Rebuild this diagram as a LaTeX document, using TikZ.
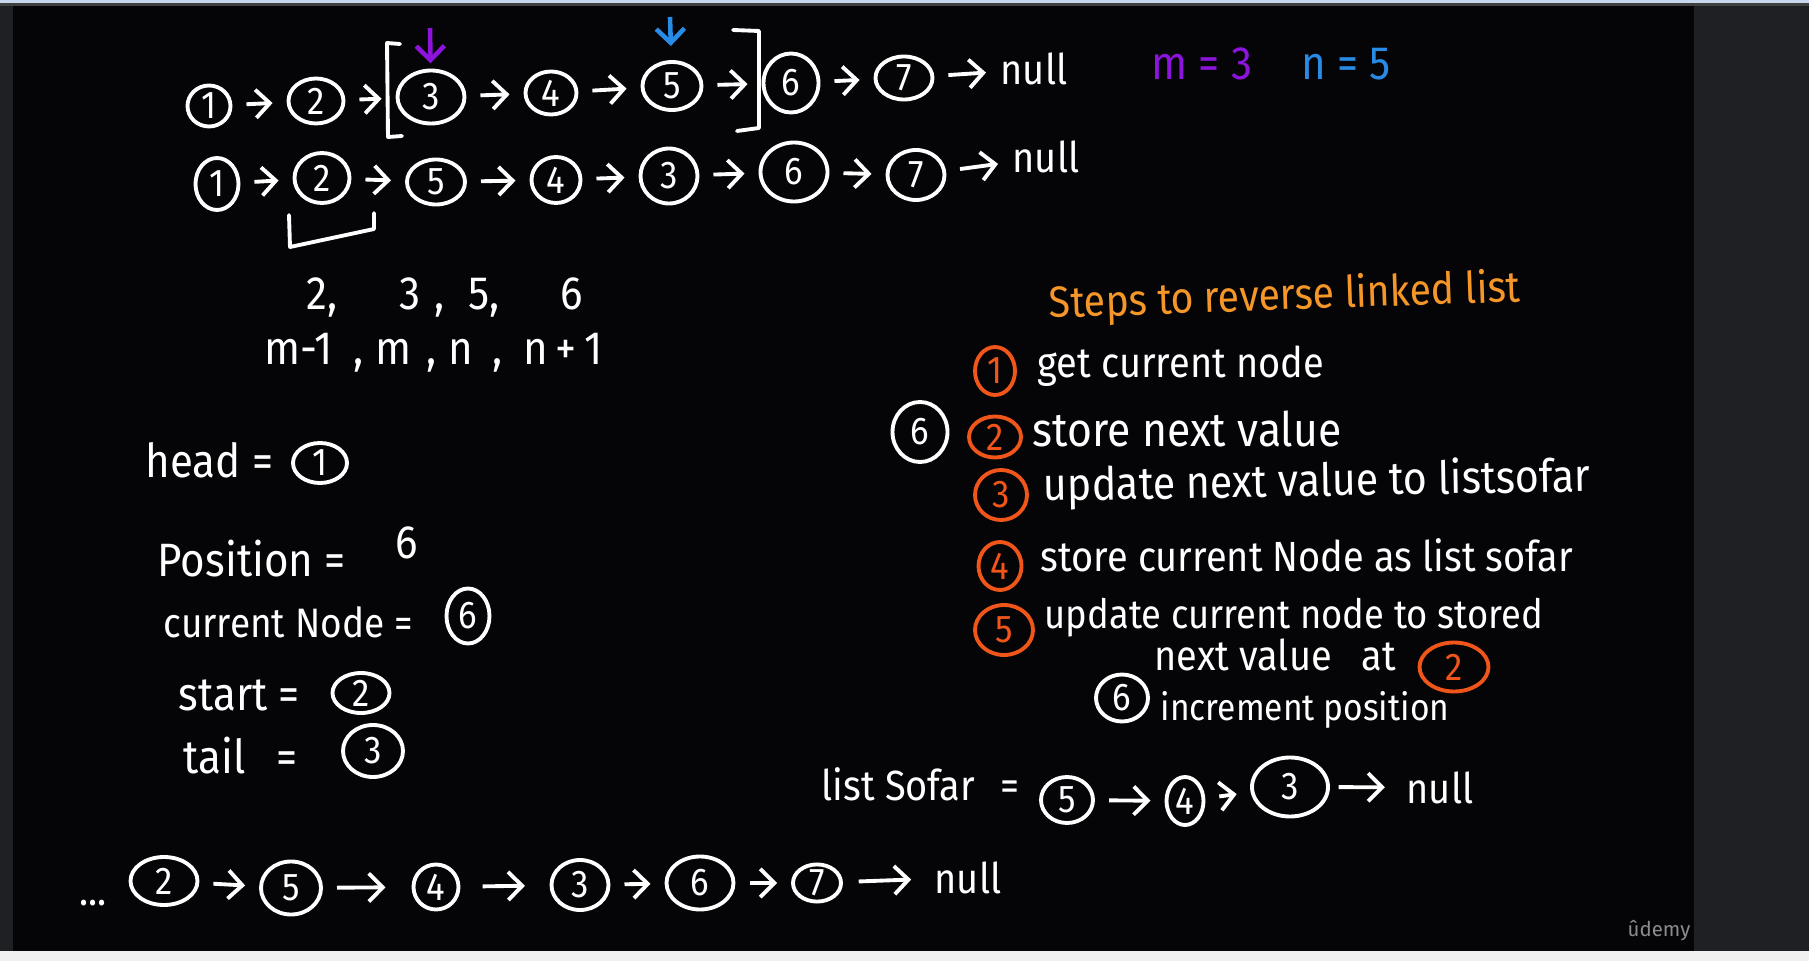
\documentclass[tikz,border=0pt]{standalone}
\usepackage{fontspec}
\setmainfont{Fira Sans}[FakeStretch=0.9]
\newfontfamily\logofont{Fira Sans}
\usetikzlibrary{shapes.geometric,arrows.meta}
\definecolor{board}{RGB}{5,4,7}
\definecolor{sidegray}{RGB}{31,32,35}
\definecolor{topblue}{RGB}{200,215,240}
\definecolor{titleorange}{RGB}{245,150,40}
\definecolor{steporange}{RGB}{240,85,25}
\definecolor{mpurple}{RGB}{140,20,220}
\definecolor{nblue}{RGB}{40,140,230}
\definecolor{logogray}{RGB}{140,140,140}
\begin{document}
\begin{tikzpicture}[x=0.01cm, y=-0.01cm,
  every node/.style={text=white, inner sep=0pt, font=\fontsize{12}{14}\selectfont},
  sz/.style 2 args={minimum width=#1*0.01cm, minimum height=#2*0.01cm},
  ball/.style={ellipse, draw=white, line width=1.1pt, font=\fontsize{11}{13}\selectfont},
  oball/.style={ball, draw=steporange, text=steporange},
  hand/.style={anchor=base west},
  big/.style={font=\fontsize{13.3}{16}\selectfont},
  link/.style={white, line width=1.1pt, -{Straight Barb[length=4pt,width=8pt]}, shorten <=4pt, shorten >=4pt},
  pointer/.style={line width=1.3pt, -{Straight Barb[length=4pt,width=8pt]}},
  stroke/.style={white, line width=1.1pt, line cap=round, line join=round}]
  \useasboundingbox (0,0) rectangle (1809,961);
  \fill[sidegray] (0,0) rectangle (1809,961);
  \fill[topblue] (0,0) rectangle (1809,3);
  \fill[black!75] (0,3) rectangle (1809,6);
  \fill[board] (13,6) rectangle (1694,951);
  \fill[white!94!black] (0,951) rectangle (1809,961);

  \node[ball, sz={43}{41}] (a1) at (209,106) {1};
  \node[ball, sz={55}{45}] (a2) at (316,101) {2};
  \node[ball, sz={67}{53}] (a3) at (431,97) {3};
  \node[ball, sz={51}{43}] (a4) at (551,93) {4};
  \node[ball, sz={59}{48}] (a5) at (672,86) {5};
  \node[ball, sz={55}{59}] (a6) at (791,83) {6};
  \node[ball, sz={57}{43}] (a7) at (904,78) {7};
  \node[hand] (anull) at (1000,85) {null};
  \draw[link] (a1) -- (a2);
  \draw[link] (a2) -- (a3);
  \draw[link] (a3) -- (a4);
  \draw[link] (a4) -- (a5);
  \draw[link] (a5) -- (a6);
  \draw[link] (a6) -- (a7);
  \draw[link] (a7) -- (anull);
  \draw[stroke] (400,44) -- (387,43) -- (388,137) -- (402,136);
  \draw[stroke] (733,30) -- (759,31) -- (759,128) -- (737,131);
  \coordinate (mptr) at (430,28);
  \coordinate (nptr) at (670,17);
  \draw[pointer, mpurple, shorten >=1.5pt] (mptr) -- (a3);
  \draw[pointer, nblue, shorten >=4pt] (nptr) -- (a5);
  \node[hand, big, text=mpurple] (mval) at (1151,80) {m = 3};
  \node[hand, big, text=nblue] (nval) at (1301,80) {n = 5};

  \node[ball, sz={43}{52}] (b1) at (217,184) {1};
  \node[ball, sz={55}{50}] (b2) at (322,178) {2};
  \node[ball, sz={58}{45}] (b5) at (436,182) {5};
  \node[ball, sz={49}{46}] (b4) at (556,180) {4};
  \node[ball, sz={57}{55}] (b3) at (669,176) {3};
  \node[ball, sz={67}{59}] (b6) at (794,172) {6};
  \node[ball, sz={57}{50}] (b7) at (916,175) {7};
  \node[hand] (bnull) at (1012,173) {null};
  \draw[link] (b1) -- (b2);
  \draw[link] (b2) -- (b5);
  \draw[link] (b5) -- (b4);
  \draw[link] (b4) -- (b3);
  \draw[link] (b3) -- (b6);
  \draw[link] (b6) -- (b7);
  \draw[link] (b7) -- (bnull);
  \draw[stroke] (289,215) -- (290,247) -- (374,229) -- (374,213);

  \node[hand, big] (vals) at (306,310) {2,\hspace{0.62cm}3\hspace{0.14cm},\hspace{0.24cm}5,\hspace{0.6cm}6};
  \node[hand, big] (idx) at (264,365) {m-1\hspace{0.2cm},\hspace{0.12cm}m\hspace{0.15cm},\hspace{0.12cm}n\hspace{0.2cm},\hspace{0.2cm}n\,+\,1};

  \node[hand, big] (head) at (145,478) {head =};
  \node[ball, sz={54}{40}] (hd1) at (320,463) {1};
  \node[hand, big] (pos) at (157,577) {Position =};
  \node[hand, big] (posval) at (395,558) {6};
  \node[hand, font=\fontsize{11.7}{14}\selectfont] (cur) at (163,637) {current Node =};
  \node[ball, sz={43}{55}] (cn6) at (468,616) {6};
  \node[hand, big] (start) at (178,710) {start =};
  \node[ball, sz={57}{40}] (st2) at (361,693) {2};
  \node[hand, big] (tail) at (183,773) {tail\hspace{0.2cm} =};
  \node[ball, sz={60}{52}] (tl3) at (373,751) {3};

  \node[hand, text=titleorange, rotate=2, font=\fontsize{12.4}{15}\selectfont] (title) at (1049,318) {Steps to reverse linked list};
  \node[oball, sz={40}{48}] (o1) at (995,371) {1};
  \node[hand] (step1) at (1037,378) {get current node};
  \node[ball, sz={55}{60}] (w6) at (920,432) {6};
  \node[oball, sz={52}{41}] (o2) at (995,437) {2};
  \node[hand, font=\fontsize{13.5}{16}\selectfont] (step2) at (1032,446) {store next value};
  \node[oball, sz={52}{50}] (o3) at (1001,495) {3};
  \node[hand, rotate=1, font=\fontsize{13}{16}\selectfont] (step3) at (1043,501) {update next value to listsofar};
  \node[oball, sz={43}{48}] (o4) at (1000,566) {4};
  \node[hand] (step4) at (1040,571) {store current Node as list sofar};
  \node[oball, sz={58}{50}] (o5) at (1004,630) {5};
  \node[hand, font=\fontsize{11.5}{14}\selectfont] (step5) at (1044,628) {update current node to stored};
  \node[hand] (step5b) at (1154,670) {next value\hspace{0.2cm} at};
  \node[oball, sz={69}{49}] (o2b) at (1454,667) {2};
  \node[ball, sz={52}{47}] (w6b) at (1122,698) {6};
  \node[hand, font=\fontsize{10.6}{13}\selectfont] (step6) at (1160,720) {increment position};

  \node[hand] (sofar) at (821,800) {list Sofar\hspace{0.15cm} =};
  \node[ball, sz={52}{46}] (s5) at (1067,800) {5};
  \node[ball, sz={37}{48}] (s4) at (1185,801) {4};
  \node[ball, sz={76}{59}] (s3) at (1290,787) {3};
  \node[hand] (snull) at (1406,803) {null};
  \draw[link] (s5) -- (s4);
  \draw[link] (s4) -- (s3);
  \draw[link, shorten <=2.5pt, shorten >=6pt] (s3) -- (snull);

  \node[hand] (dots) at (79,905) {...};
  \node[ball, sz={67}{48}] (d2) at (164,881) {2};
  \node[ball, sz={60}{53}] (d5) at (291,888) {5};
  \node[ball, sz={45}{45}] (d4) at (436,887) {4};
  \node[ball, sz={57}{50}] (d3) at (580,885) {3};
  \node[ball, sz={67}{53}] (d6) at (700,883) {6};
  \node[ball, sz={48}{37}] (d7) at (817,883) {7};
  \node[hand] (dnull) at (934,893) {null};
  \draw[link] (d2) -- (d5);
  \draw[link, shorten >=7.4pt] (d5) -- (d4);
  \draw[link, shorten <=6.3pt, shorten >=7pt] (d4) -- (d3);
  \draw[link] (d3) -- (d6);
  \draw[link] (d6) -- (d7);
  \draw[link, shorten <=4.5pt, shorten >=6.5pt] (d7) -- (dnull);

  \node[anchor=base west, text=logogray, font=\logofont\fontsize{5.8}{7}\selectfont] (logo) at (1627,936) {ûdemy};
\end{tikzpicture}
\end{document}
